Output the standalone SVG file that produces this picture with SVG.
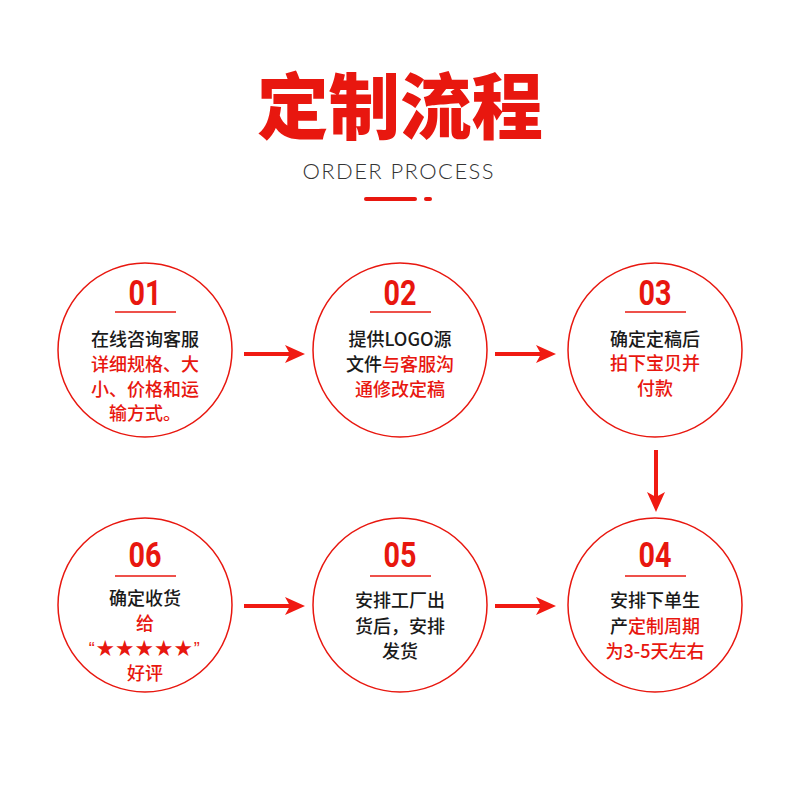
<svg xmlns="http://www.w3.org/2000/svg" width="800" height="800" viewBox="0 0 800 800">
<style>
.ring{fill:#fff;stroke:#e8170f;stroke-width:1.5}
.num{font-family:Roboto,"Liberation Sans",sans-serif;font-weight:bold;font-size:35px;fill:#e8170f;text-anchor:middle}
.ul{stroke:#e8170f;stroke-width:1.5}
.t{font-family:"Noto Sans CJK SC",sans-serif;font-weight:500;font-size:18px;fill:#1a1a1a;text-anchor:middle}
.r{fill:#e8170f}
.arr{stroke:#f01a12;stroke-width:4;fill:none}
</style>
<defs>
<marker id="ah" markerUnits="userSpaceOnUse" markerWidth="22" markerHeight="20" refX="15" refY="9" orient="auto" overflow="visible">
<path d="M0,0 L20,9 L0,18 L5,9 Z" fill="#f01a12"/>
</marker>
</defs>
<rect width="800" height="800" fill="#fff"/>
<g id="title">
<text x="400" y="133" font-family="Noto Sans CJK SC,sans-serif" font-weight="900" font-size="72" fill="#e8170f" text-anchor="middle" textLength="286" lengthAdjust="spacingAndGlyphs">定制流程</text>
<text x="398" y="179" font-family="Lato,sans-serif" font-weight="300" font-size="22" fill="#333" text-anchor="middle" textLength="191" lengthAdjust="spacing">ORDER PROCESS</text>
<line x1="366" y1="199" x2="415" y2="199" stroke="#e8170f" stroke-width="4" stroke-linecap="round"/>
<line x1="426" y1="199" x2="430" y2="199" stroke="#e8170f" stroke-width="4" stroke-linecap="round"/>
</g>
<g id="connectors">
<line class="arr" x1="244" y1="354" x2="300" y2="354" marker-end="url(#ah)"/>
<line class="arr" x1="495" y1="354" x2="551" y2="354" marker-end="url(#ah)"/>
<line class="arr" x1="656" y1="450" x2="656" y2="507" marker-end="url(#ah)"/>
<line class="arr" x1="244" y1="606" x2="300" y2="606" marker-end="url(#ah)"/>
<line class="arr" x1="495" y1="606" x2="551" y2="606" marker-end="url(#ah)"/>
</g>
<g id="step01">
<circle class="ring" cx="145" cy="350" r="87"/>
<text class="num" x="145" y="305" textLength="33" lengthAdjust="spacingAndGlyphs">01</text>
<line class="ul" x1="115" y1="312" x2="176" y2="312"/>
<text class="t" x="145" y="346">在线咨询客服</text>
<text class="t r" x="145" y="371">详细规格、大</text>
<text class="t r" x="145" y="396">小、价格和运</text>
<text class="t r" x="145" y="420">输方式。</text>
</g>
<g id="step02">
<circle class="ring" cx="400" cy="350" r="87"/>
<text class="num" x="400" y="305" textLength="33" lengthAdjust="spacingAndGlyphs">02</text>
<line class="ul" x1="370" y1="312" x2="431" y2="312"/>
<text class="t" x="400" y="346">提供LOGO源</text>
<text class="t" x="400" y="371">文件<tspan class="r">与客服沟</tspan></text>
<text class="t r" x="400" y="396">通修改定稿</text>
</g>
<g id="step03">
<circle class="ring" cx="655" cy="350" r="87"/>
<text class="num" x="655" y="305" textLength="33" lengthAdjust="spacingAndGlyphs">03</text>
<line class="ul" x1="625" y1="312" x2="686" y2="312"/>
<text class="t" x="655" y="346">确定定稿后</text>
<text class="t r" x="655" y="370">拍下宝贝并</text>
<text class="t r" x="655" y="395">付款</text>
</g>
<g id="step04">
<circle class="ring" cx="655" cy="605" r="87"/>
<text class="num" x="655" y="567" textLength="33" lengthAdjust="spacingAndGlyphs">04</text>
<line class="ul" x1="625" y1="576" x2="686" y2="576"/>
<text class="t" x="655" y="607">安排下单生</text>
<text class="t" x="655" y="633">产<tspan class="r">定制周期</tspan></text>
<text class="t r" x="655" y="658">为3-5天左右</text>
</g>
<g id="step05">
<circle class="ring" cx="400" cy="605" r="87"/>
<text class="num" x="400" y="567" textLength="33" lengthAdjust="spacingAndGlyphs">05</text>
<line class="ul" x1="370" y1="576" x2="431" y2="576"/>
<text class="t" x="400" y="607">安排工厂出</text>
<text class="t" x="400" y="633">货后，安排</text>
<text class="t" x="400" y="658">发货</text>
</g>
<g id="step06">
<circle class="ring" cx="145" cy="605" r="87"/>
<text class="num" x="145" y="567" textLength="33" lengthAdjust="spacingAndGlyphs">06</text>
<line class="ul" x1="115" y1="576" x2="176" y2="576"/>
<text class="t" x="145" y="605">确定收货</text>
<text class="t r" x="145" y="630">给</text>
<text class="t r" x="145" y="655" font-size="16" letter-spacing="1.5"><tspan font-family="Liberation Sans,sans-serif">“</tspan>★★★★★<tspan font-family="Liberation Sans,sans-serif">”</tspan></text>
<text class="t r" x="145" y="680">好评</text>
</g>
</svg>
